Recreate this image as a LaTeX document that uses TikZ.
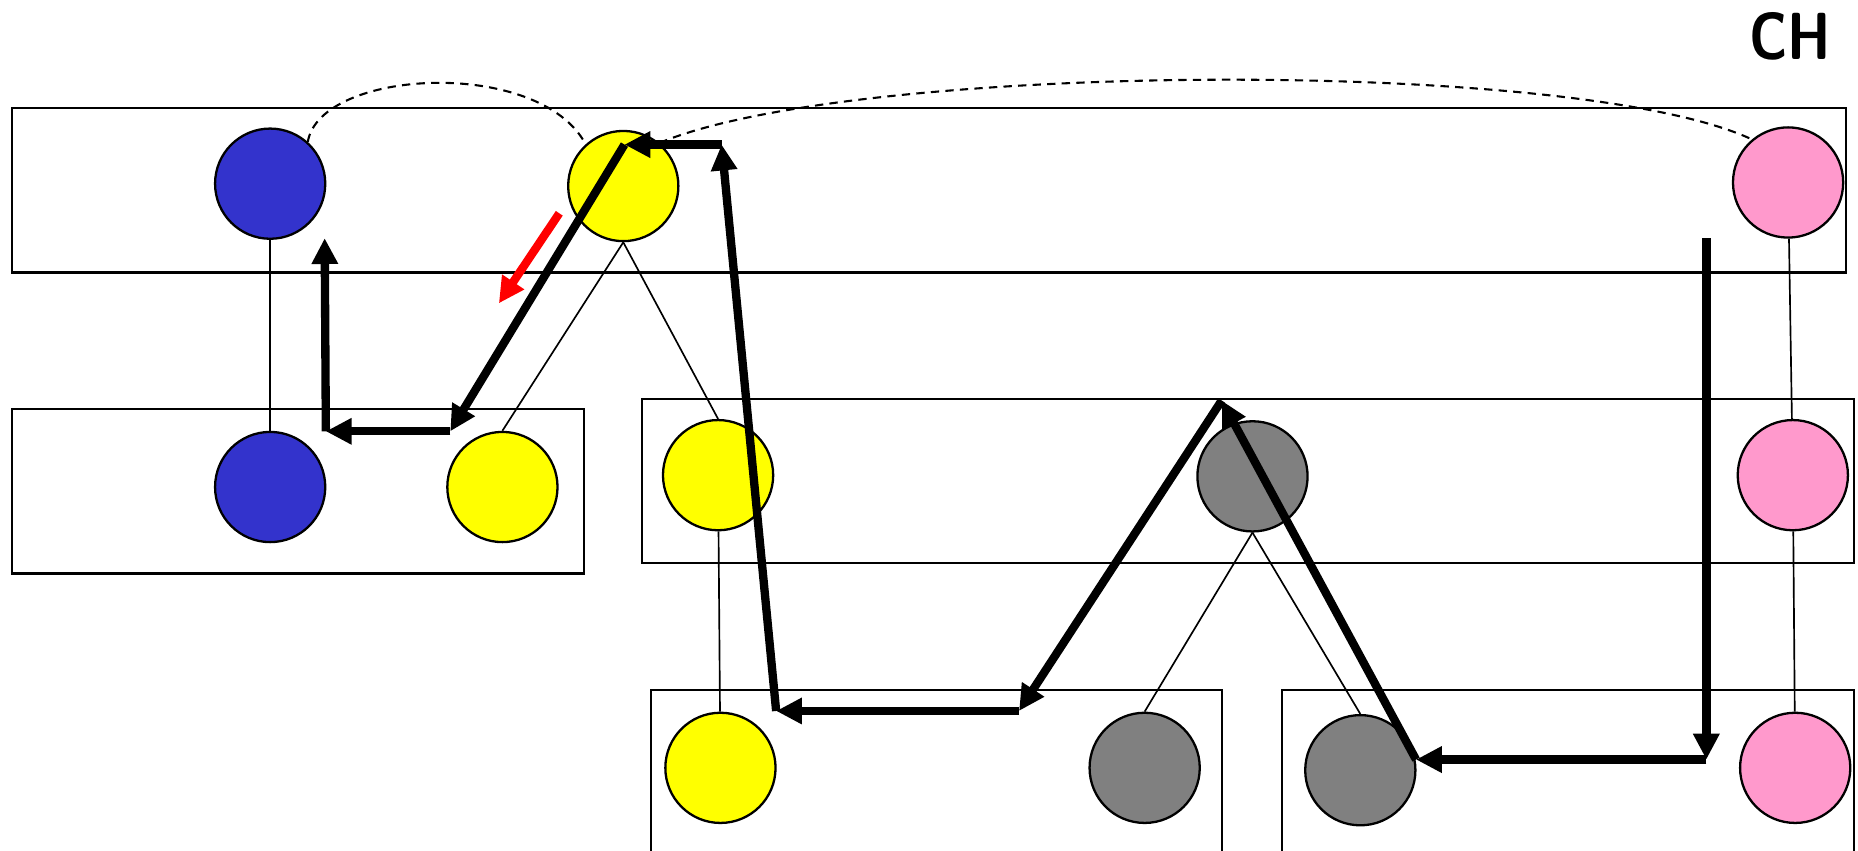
\documentclass[tikz,border=0pt]{standalone}
\usetikzlibrary{arrows.meta}
\definecolor{ballblue}{RGB}{51,51,204}
\definecolor{ballpink}{RGB}{255,153,204}
\definecolor{ballgrey}{RGB}{128,128,128}
\definecolor{ballyellow}{RGB}{255,255,0}
\begin{document}
\begin{tikzpicture}[x=0.1mm, y=-0.1mm, line join=miter, >={Triangle[length=6.2pt,width=6pt]}]
	\tikzset{ball/.style={circle, draw, line width=0.55pt, minimum size=9.3mm, inner sep=0pt},
		blueball/.style={ball, fill=ballblue}, yellowball/.style={ball, fill=ballyellow},
		greyball/.style={ball, fill=ballgrey}, pinkball/.style={ball, fill=ballpink},
		tree/.style={line width=0.4pt}, walk/.style={->, line width=2pt}}
	\useasboundingbox (0,0) rectangle (1568,718);
	\clip (0,0) rectangle (1568,718);
	% levels
	\draw[line width=0.5pt] (10,91) rectangle (1558,230);
	\draw[line width=0.5pt] (10,345) rectangle (493,484);
	\draw[line width=0.5pt] (542,337) rectangle (1565,475);
	\draw[line width=0.5pt] (549,582) rectangle (1031,730);
	\draw[line width=0.5pt] (1082,582) rectangle (1565,730);
	% balls
	\node[blueball] (b1) at (228,155) {};
	\node[yellowball] (y1) at (526,157) {};
	\node[pinkball] (p1) at (1509,154) {};
	\node[blueball] (b2) at (228,411) {};
	\node[yellowball] (y2) at (424,411) {};
	\node[yellowball] (y3) at (606,401) {};
	\node[greyball] (g1) at (1057,402) {};
	\node[pinkball] (p2) at (1513,401) {};
	\node[yellowball] (y4) at (608,648) {};
	\node[greyball] (g2) at (966,648) {};
	\node[greyball] (g3) at (1148,650) {};
	\node[pinkball] (p3) at (1515,648) {};
	% tree edges
	\draw[tree] (b1) -- (b2);
	\draw[tree] (y1.south) -- (y2.north);
	\draw[tree] (y1.south) -- (y3.north);
	\draw[tree] (y3) -- (y4);
	\draw[tree] (g1.south) -- (g2.north);
	\draw[tree] (g1.south) -- (g3.north);
	\draw[tree] (p1) -- (p2);
	\draw[tree] (p2) -- (p3);
	% links between roots
	\draw[line width=0.5pt, dash pattern=on 2pt off 1.5pt] (b1.48) .. controls (270,58) and (455,48) .. (y1.132);
	\draw[line width=0.5pt, dash pattern=on 2pt off 1.5pt] (y1.50) .. controls (720,52) and (1330,48) .. (p1.130);
	% the walk
	\coordinate (w1) at (1440,201);
	\coordinate (w2) at (1440,641);
	\coordinate (w3) at (1195,641);
	\coordinate (w4) at (1031,338);
	\coordinate (w5) at (860,600);
	\coordinate (w6) at (655,600);
	\coordinate (w7) at (609,122);
	\coordinate (w8) at (527,122);
	\coordinate (w9) at (380,364);
	\coordinate (w10) at (275,364);
	\coordinate (w11) at (274,201);
	\draw[walk] (w1) -- (w2);
	\draw[walk] (w2) -- (w3);
	\draw[walk] (w3) -- (w4);
	\draw[walk] (w4) -- (w5);
	\draw[walk] (w5) -- (w6);
	\draw[walk] (w6) -- (w7);
	\draw[walk] (w7) -- (w8);
	\draw[walk] (w8) -- (w9);
	\draw[walk] (w9) -- (w10);
	\draw[walk] (w10) -- (w11);
	\coordinate (r1) at (472,180);
	\coordinate (r2) at (421,256);
	\draw[walk, red] (r1) -- (r2);
	\node (ch) at (1511,31) {\scalebox{0.82}[1]{\fontsize{16}{19}\selectfont\sffamily\bfseries CH}};
\end{tikzpicture}
\end{document}
